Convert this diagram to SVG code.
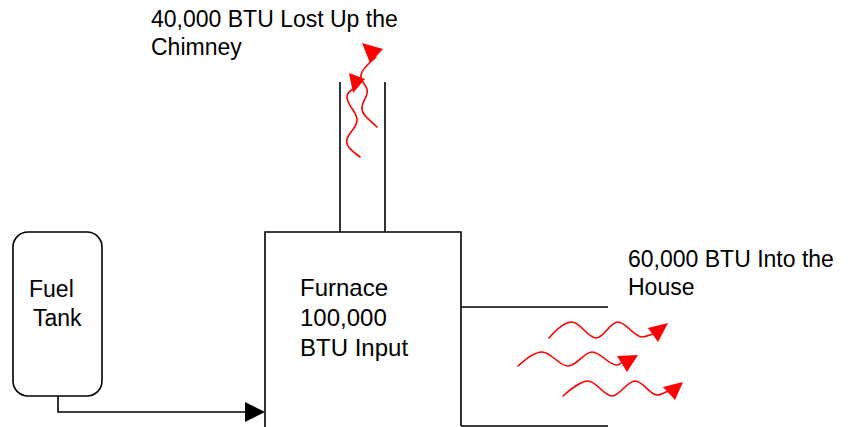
<svg xmlns="http://www.w3.org/2000/svg" width="851" height="427" viewBox="0 0 851 427">
<style>
.ln{fill:none;stroke:#000;stroke-width:1.6}
.wv{fill:none;stroke:#f00;stroke-width:1.6;stroke-linecap:round}
.ah{fill:#f00;stroke:none}
.t{font-family:"Liberation Sans",Arial,sans-serif;font-size:23px;fill:#000}
.tf{font-family:"Liberation Sans",Arial,sans-serif;font-size:24px;fill:#000}
</style>
<rect width="851" height="427" fill="#fff"/>
<g id="fuel-tank">
<rect class="ln" x="13" y="232" width="89" height="164" rx="15" ry="15"/>
<text class="t"><tspan x="29" y="297">Fuel</tspan><tspan x="33" y="326">Tank</tspan></text>
</g>
<g id="furnace">
<path class="ln" d="M265,427 V232 H461 V426"/>
<path class="ln" d="M340,82 V232 M385,82 V232"/>
<path class="ln" d="M461,307 H608 M461,426 H608"/>
<text class="tf"><tspan x="300" y="296">Furnace</tspan><tspan x="300" y="326">100,000</tspan><tspan x="300" y="356">BTU Input</tspan></text>
</g>
<g id="chimney-label">
<text class="t"><tspan x="151" y="27">40,000 BTU Lost Up the</tspan><tspan x="151" y="55">Chimney</tspan></text>
</g>
<g id="house-label">
<text class="t"><tspan x="628" y="267">60,000 BTU Into the</tspan><tspan x="628" y="295">House</tspan></text>
</g>
<g id="connectors">
<path class="ln" d="M58,396 V412 H248"/>
<polygon points="245,402 265,412 245,422" fill="#000"/>
</g>
<g id="heat-chimney">
<path class="wv" d="M360,157 C352,151 345,146 347,139 C349,132 358,127 357,119 C356,111 347,105 347,97 C347,91 354,89 358,86"/>
<polygon class="ah" points="349,73 365,79 353,93"/>
<path class="wv" d="M377,127 C370,120 361,115 362,107 C363,99 369,96 367,89 C365,83 360,81 361,75 C362,68 371,62 376,57"/>
<polygon class="ah" points="362,43 383,49 370,63"/>
</g>
<g id="heat-house">
<path class="wv" d="M549,338 C555,331 564,322 572,322 C580,322 588,338 596,338 C604,338 610,322 618,322 C626,322 634,337 642,337 C646,337 650,335 653,334"/>
<polygon class="ah" points="648,328 668,323 658,342"/>
<path class="wv" d="M518,366 C525,360 534,352 542,352 C551,352 559,366 568,366 C577,366 584,352 592,352 C601,352 608,365 617,365 C619,365 620,364 621,363"/>
<polygon class="ah" points="617,356 638,355 627,372"/>
<path class="wv" d="M563,396 C570,390 580,381 588,381 C596,381 604,396 612,396 C620,396 627,381 635,381 C643,381 650,395 657,395 C661,395 664,393 668,391"/>
<polygon class="ah" points="663,387 683,382 675,400"/>
</g>
</svg>
